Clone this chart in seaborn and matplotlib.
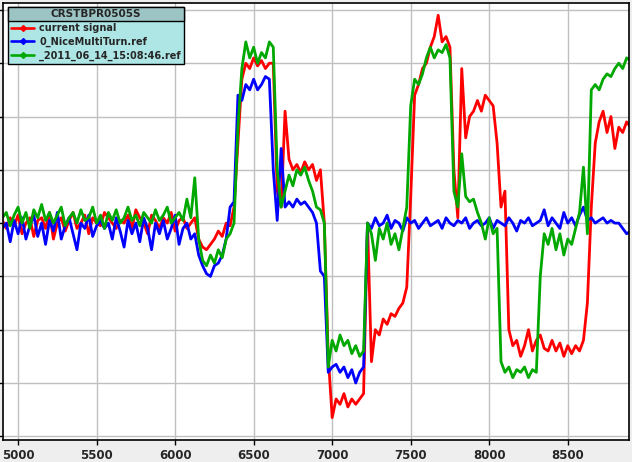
import numpy as np
import pandas as pd
import matplotlib
matplotlib.use("Agg")
import matplotlib.pyplot as plt
import seaborn as sns
from matplotlib.lines import Line2D
from matplotlib.patches import Rectangle

# sample positions (every 25 counts) and the three traces
positions = list(range(4900, 8901, 25))

current_signal = [
    0.05, -0.1, 0.1, -0.05, 0.15, -0.2, 0.0, 0.1, -0.25, 0.05,
    0.1, -0.1, 0.2, -0.3, 0.0, 0.1, -0.15, 0.05, 0.2, -0.1,
    0.0, 0.15, -0.2, 0.1, 0.0, -0.05, 0.2, 0.1, 0.0, -0.1,
    0.05, 0.0, 0.15, -0.1, 0.25, 0.1, 0.0, -0.2, 0.15, 0.05,
    -0.1, 0.1, 0.0, 0.2, -0.15, 0.05, 0.1, -0.1, 0.0,
    0.1, -0.3, -0.45, -0.5, -0.4, -0.3, -0.15, -0.25, 0.0, -0.05, 0.3,
    1.5, 2.7, 3.0, 2.9, 3.1, 2.95, 3.05, 2.9, 3.0, 3.0,
    0.6, 0.3, 2.1, 1.2, 1.0, 1.1, 0.95, 1.15, 1.0, 1.1, 0.8, 1.0,
    0.0, -2.5, -3.65, -3.3, -3.4, -3.2, -3.45, -3.3, -3.4, -3.3, -3.2,
    0.0, -2.6, -2.0, -2.1, -1.8, -1.9, -1.7, -1.75, -1.6, -1.5, -1.2,
    0.5, 2.4, 2.6, 2.9, 3.0, 3.3, 3.5, 3.9, 3.4, 3.5, 3.3,
    1.0, 0.1, 2.9, 1.6, 2.0, 2.1, 2.3, 2.1, 2.4, 2.3, 2.2, 1.5, 0.3, 0.6,
    -2.0, -2.3, -2.2, -2.5, -2.3, -2.0, -2.4, -2.2, -2.1, -2.35, -2.4,
    -2.2, -2.4, -2.25, -2.5, -2.3, -2.45, -2.3, -2.4, -2.2,
    -1.5, 0.3, 1.5, 1.9, 2.1, 1.7, 2.0, 1.4, 1.8, 1.7, 1.9, 1.8,
]

nice_multi_turn = [
    -0.1, 0.0, -0.35, 0.05, -0.2, 0.1, -0.3, -0.05, 0.15, -0.25,
    0.0, -0.4, 0.05, -0.15, 0.2, -0.3, -0.05, 0.1, -0.2, -0.5,
    0.0, -0.1, 0.15, -0.25, -0.05, 0.05, -0.1, 0.0, -0.3, 0.1,
    -0.15, -0.45, 0.05, -0.2, 0.0, -0.35, 0.1, -0.1, -0.5, 0.0,
    -0.2, 0.05, -0.3, -0.1, 0.15, -0.4, -0.1, 0.0, -0.3,
    -0.2, -0.6, -0.8, -0.95, -1.0, -0.8, -0.75, -0.6, -0.3, 0.3, 0.4,
    2.4, 2.3, 2.6, 2.5, 2.7, 2.5, 2.6, 2.75, 2.7,
    1.0, 0.05, 1.4, 0.3, 0.4, 0.3, 0.45, 0.35, 0.4, 0.3, 0.2, 0.0,
    -0.9, -1.0, -2.8, -2.7, -2.65, -2.8, -2.7, -2.9, -2.75, -3.0, -2.8, -2.7,
    0.0, -0.1, 0.1, -0.05, 0.0, 0.15, -0.1, 0.05, 0.0, -0.15,
    0.1, 0.0, 0.05, -0.1, 0.0, 0.1, -0.05, 0.0, 0.05, -0.1,
    0.1, 0.0, -0.05, 0.05, 0.0, 0.1, -0.1, 0.0, 0.05, -0.05,
    0.0, 0.1, -0.1, 0.05, 0.0, -0.05, 0.1, 0.0, -0.15, 0.05,
    0.0, 0.1, -0.05, 0.0, 0.05, 0.25, -0.05, 0.1, 0.0, -0.1,
    0.2, 0.0, 0.1, -0.05, 0.15, 0.3, 0.05, 0.1, 0.0, 0.05,
    0.1, 0.0, 0.05, 0.0, 0.0, -0.1, -0.2, -0.15,
]

ref_2011 = [
    0.1, 0.2, -0.05, 0.15, 0.3, 0.0, 0.2, -0.1, 0.25, 0.1,
    0.35, 0.05, 0.2, 0.0, 0.15, 0.3, -0.05, 0.1, 0.2, 0.0,
    0.25, 0.05, 0.1, 0.3, 0.0, 0.15, -0.1, 0.2, 0.05, 0.25,
    0.0, 0.1, 0.3, 0.05, 0.15, -0.05, 0.2, 0.1, 0.0, 0.25,
    0.05, 0.15, 0.3, 0.0, 0.1, 0.2, 0.05, 0.45, 0.1,
    0.85, -0.3, -0.7, -0.8, -0.6, -0.75, -0.5, -0.65, -0.3, -0.2, 0.0,
    1.8, 2.9, 3.4, 3.1, 3.3, 3.0, 3.2, 3.1, 3.4, 3.3,
    1.0, 0.3, 0.6, 0.9, 0.7, 1.0, 0.9, 1.05, 0.8, 0.6, 0.3, 0.25,
    0.0, -2.7, -2.2, -2.4, -2.1, -2.3, -2.2, -2.45, -2.3, -2.5, -2.4,
    0.0, -0.2, -0.7, -0.1, -0.3, 0.0, -0.4, -0.2, -0.5, -0.1, 0.3,
    2.2, 2.7, 2.6, 2.8, 3.1, 3.3, 3.1, 3.25, 3.2, 3.35, 3.1,
    0.6, 0.3, 1.3, 0.5, 0.4, 0.45, 0.2, 0.0, -0.3, 0.1, -0.2, -0.1,
    -2.6, -2.8, -2.7, -2.9, -2.75, -2.8, -2.7, -2.9, -2.75, -2.8,
    -1.0, -0.2, -0.4, -0.1, -0.5, -0.2, -0.6, -0.3, -0.4, -0.1, 0.2, 1.05, -0.2,
    2.5, 2.6, 2.5, 2.7, 2.8, 2.75, 2.9, 3.0, 2.9, 3.1, 3.05,
]

series_names = ["current signal", "0_NiceMultiTurn.ref", "_2011_06_14_15:08:46.ref"]
series_colors = ["#ff0000", "#0000ff", "#00a800"]
legend_title = "CRSTBPR0505S"
x_ticks = [5000, 5500, 6000, 6500, 7000, 7500, 8000, 8500]
y_ticks = [-4, -3, -2, -1, 0, 1, 2, 3, 4]

df = pd.DataFrame({
    "pos": positions * 3,
    "value": current_signal + nice_multi_turn + ref_2011,
    "series": [series_names[0]] * len(current_signal)
              + [series_names[1]] * len(nice_multi_turn)
              + [series_names[2]] * len(ref_2011),
})

sns.set_style("white")
plt.rcParams["font.family"] = ["DejaVu Sans"]

fig = plt.figure(figsize=(6.32, 4.62), dpi=100, facecolor="#eeeeee")
ax = fig.add_axes([3 / 632, 22 / 462, 626 / 632, 437 / 462])
ax.set_facecolor("white")

sns.lineplot(data=df, x="pos", y="value", hue="series", hue_order=series_names,
             palette=series_colors, linewidth=2.0, estimator=None, sort=False,
             legend=False, ax=ax)

ax.set_xlim(4904, 8890)
ax.set_ylim(-4.07, 4.13)
ax.set_xticks(x_ticks)
ax.set_xticklabels([str(t) for t in x_ticks], fontweight="bold", fontsize=8.5)
ax.set_yticks(y_ticks)
ax.set_yticklabels([])
ax.set_xlabel("")
ax.set_ylabel("")
ax.grid(True, color="#c0c0c0", linewidth=1.0)
ax.set_axisbelow(True)
ax.tick_params(axis="both", direction="out", length=3.5, width=1, color="black", pad=3,
               bottom=True, left=True)
for sp in ax.spines.values():
    sp.set_color("black")
    sp.set_linewidth(1.2)

handles = [Line2D([], [], color=c, linewidth=1.9, marker="D", markersize=3)
           for c in series_colors]
# blank title keeps room for the header strip drawn below
leg = ax.legend(handles, series_names, title=" ", loc="upper left",
                bbox_to_anchor=(0.008, 0.991), borderaxespad=0, frameon=True,
                fancybox=False, facecolor="#aee6e6", edgecolor="black", framealpha=1,
                prop={"weight": "bold", "size": 7}, handlelength=2.4,
                handletextpad=0.5, labelspacing=0.35, borderpad=0.3)
leg.get_title().set_fontsize(7.5)
leg.get_frame().set_linewidth(1.0)

# darker title strip over the legend header
fig.canvas.draw()
inv = fig.transFigure.inverted()
fb = leg.get_frame().get_window_extent()
tb = leg.get_title().get_window_extent()
x0, y0 = inv.transform((fb.x0, tb.y0 - 1))
x1, y1 = inv.transform((fb.x1, fb.y1))
fig.add_artist(Rectangle((x0, y0), x1 - x0, y1 - y0, transform=fig.transFigure,
                         facecolor="#9dc4c4", edgecolor="black", linewidth=1.0, zorder=5))
fig.text((x0 + x1) / 2, (y0 + y1) / 2, legend_title, ha="center", va="center",
         fontsize=7.5, fontweight="bold", zorder=6)

fig.savefig("out.png", dpi=100, facecolor=fig.get_facecolor())
